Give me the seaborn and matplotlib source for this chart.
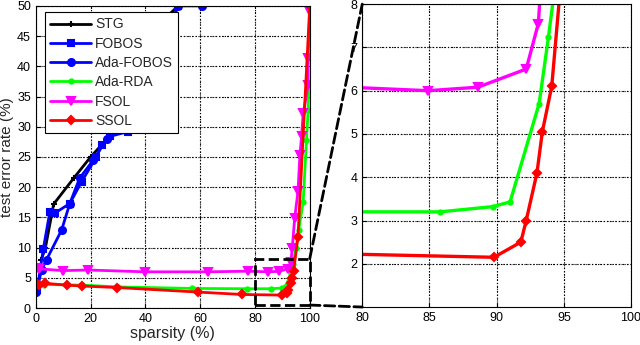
import matplotlib
matplotlib.use("Agg")
import matplotlib.pyplot as plt
import seaborn as sns
from matplotlib.patches import Rectangle, ConnectionPatch

sns.set_style("white")
plt.rcParams['font.family'] = ['Liberation Sans', 'DejaVu Sans']

# ---- data ----
stg_x = [2, 3.5, 6.5, 14, 20, 27, 35, 45, 52]
stg_y = [8, 10, 17.2, 21.6, 25, 28.5, 32.5, 47, 50]

fobos_x = [0.5, 2.7, 5.1, 6.9, 12.4, 16.7, 22.1, 24, 27, 33.7, 35.5, 52]
fobos_y = [3.0, 9.7, 15.9, 15.7, 17.3, 20.9, 25, 27, 28.4, 29.2, 32.8, 50]

adafobos_x = [0.2, 2.1, 3.9, 9.4, 12.4, 16, 21, 26, 30.7, 36, 52, 60.5]
adafobos_y = [2.7, 6.3, 8.0, 12.9, 17.3, 21.5, 24.5, 28, 30.8, 33, 50, 50]

adarda_x = [0, 1, 3, 17, 30, 57, 77, 85.8, 89.7, 91.0, 93.16, 93.85, 95, 96, 97.6, 98.8, 99.4, 99.6]
adarda_y = [4.0, 4.0, 3.9, 3.8, 3.5, 3.25, 3.2, 3.2, 3.32, 3.43, 5.7, 7.23, 10, 13, 17.6, 27.8, 32.8, 37]

fsol_x = [0.2, 1, 10, 19.1, 39.8, 62.7, 77.5, 84.9, 88.6, 92.2, 93.1, 93.6, 94.5, 95.7, 96.4, 97, 97.6, 99.4, 99.4, 100]
fsol_y = [6.6, 6.5, 6.2, 6.3, 6.0, 6.0, 6.1, 6.0, 6.08, 6.5, 7.55, 9.9, 14.9, 19.3, 25.3, 28.4, 32.2, 36.9, 41.3, 49]

ssol_x = [0.2, 1, 3.3, 11.2, 16.7, 29.7, 59.2, 75.3, 89.8, 91.8, 92.2, 93.0, 93.4, 94.1, 95.7, 100]
ssol_y = [4.1, 3.9, 4.1, 3.8, 3.65, 3.4, 2.65, 2.25, 2.15, 2.5, 3.0, 4.1, 5.05, 6.1, 11.8, 50]

series = [
    ("STG", stg_x, stg_y, "black", "+", 5),
    ("FOBOS", fobos_x, fobos_y, "#0000ff", "s", 4.5),
    ("Ada-FOBOS", adafobos_x, adafobos_y, "#0000ff", "o", 5),
    ("Ada-RDA", adarda_x, adarda_y, "#00ff00", ".", 6),
    ("FSOL", fsol_x, fsol_y, "#ff00ff", "v", 6),
    ("SSOL", ssol_x, ssol_y, "#ff0000", "D", 4.5),
]

left_xticks = [0, 20, 40, 60, 80, 100]
left_yticks = [0, 5, 10, 15, 20, 25, 30, 35, 40, 45, 50]
right_xticks = [80, 85, 90, 95, 100]
right_yticks = [2, 3, 4, 5, 6, 7, 8]

fig, (ax1, ax2) = plt.subplots(1, 2, figsize=(6.4, 3.45), dpi=100)
ax1.set_position([0.056, 0.107, 0.428, 0.876])
ax2.set_position([0.566, 0.110, 0.420, 0.878])

for ax, lw in ((ax1, 2.0), (ax2, 2.4)):
    for i, (name, xs, ys, c, m, ms) in enumerate(series):
        sns.lineplot(x=xs, y=ys, ax=ax, color=c, marker=m, markersize=ms,
                     markeredgecolor=c, markerfacecolor=c, markeredgewidth=1.5,
                     linewidth=lw, sort=False, estimator=None,
                     label=name if ax is ax1 else None, zorder=2 + 0.1 * i)

ax1.set_xlim(0, 100)
ax1.set_ylim(0, 50)
ax1.set_xticks(left_xticks)
ax1.set_yticks(left_yticks)
ax1.set_xlabel("sparsity (%)", fontsize=11.5, labelpad=1)
ax1.set_ylabel("test error rate (%)", fontsize=11, labelpad=2)

ax2.set_xlim(80, 100)
ax2.set_ylim(1, 8)
ax2.set_xticks(right_xticks)
ax2.set_yticks(right_yticks)

grid_kw = dict(color="black", linestyle=(0, (1, 2.5)), linewidth=0.8, zorder=1)
for ax, xt, yt in ((ax1, left_xticks, left_yticks), (ax2, right_xticks, right_yticks)):
    ax.tick_params(bottom=True, left=True, direction="in", length=3,
                   labelsize=9, color="black", labelcolor="black")
    for s in ax.spines.values():
        s.set_color("black")
        s.set_linewidth(0.8)
    ax.grid(True, color="black", linestyle=":", linewidth=0.8)
    for v in xt:
        ax.axvline(v, **grid_kw)
    for v in yt:
        ax.axhline(v, **grid_kw)

leg = ax1.legend(loc="upper left", bbox_to_anchor=(0.033, 0.98), borderaxespad=0,
                 fontsize=10, handlelength=2.9, borderpad=0.4, labelspacing=0.38,
                 handletextpad=0.3, fancybox=False, framealpha=1, edgecolor="black")
leg.get_frame().set_linewidth(0.8)
leg.set_zorder(6)

rect = Rectangle((80, 0.5), 20, 7.7, fill=False, edgecolor="black",
                 linestyle="--", linewidth=2, clip_on=False, zorder=10)
ax1.add_patch(rect)
for (xa, ya), (xb, yb) in (((100, 8.2), (80, 8)), ((100, 0.5), (80, 1))):
    con = ConnectionPatch(xyA=(xa, ya), coordsA=ax1.transData,
                          xyB=(xb, yb), coordsB=ax2.transData,
                          linestyle="--", linewidth=2, color="black", zorder=10)
    fig.add_artist(con)

fig.savefig("out.png", dpi=100)
